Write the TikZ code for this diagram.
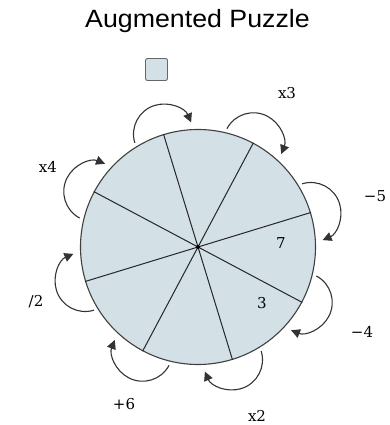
\documentclass[tikz,border=0pt]{standalone}
\usepackage{fontspec}
\setmainfont{DejaVu Serif}
\newfontfamily\titlefont{Liberation Sans}
\usetikzlibrary{arrows.meta}
\definecolor{wheelfill}{RGB}{211,224,230}
\begin{document}
\begin{tikzpicture}[x=1pt,y=1pt,
  loopline/.style={draw=black!80, line width=1.1pt, -{Triangle[length=9pt,width=9pt]}},
  spoke/.style={draw=black!85, line width=1pt},
  lab/.style={font=\fontsize{15}{18}\selectfont, text=black, inner sep=0pt},
 ]
\useasboundingbox (0,0) rectangle (390,425);
\node[font=\titlefont\fontsize{25}{30}\selectfont, inner sep=0pt, anchor=base, text=black] (title) at (197.5,397) {\scalebox{1.07}[1]{Augmented Puzzle}};
\node[draw=black!60, fill=wheelfill, rounded corners=2pt, minimum size=22pt, line width=0.9pt, inner sep=0pt] (q) at (156.5,355.5) {};
\node[circle, draw=black!75, fill=wheelfill, minimum size=235pt, line width=1.1pt, inner sep=0pt] (wheel) at (198,178) {};
\foreach \a in {17,62,107,152,197,242,287,332} {
  \coordinate (e\a) at (wheel.\a);
  \draw[spoke] (wheel.center) -- (e\a);
  \draw[loopline] ([shift={(\a+90:30)}]e\a) arc[start angle=\a+90, end angle=\a-84, radius=30];
}
\fill (wheel.center) circle (2pt);
\node[lab] (n7) at (281,182) {7};
\node[lab] (n3) at (262,122) {3};
\node[lab] (lx3) at (287,332) {x3};
\node[lab] (lx4) at (48,258) {x4};
\node[lab] (lm5) at (375,229) {−5};
\node[lab] (lm4) at (362,93) {−4};
\node[lab] (lx2) at (257,9) {x2};
\node[lab] (lp6) at (124,21) {+6};
\node[lab] (ld2) at (36,123) {/2};
\end{tikzpicture}
\end{document}
